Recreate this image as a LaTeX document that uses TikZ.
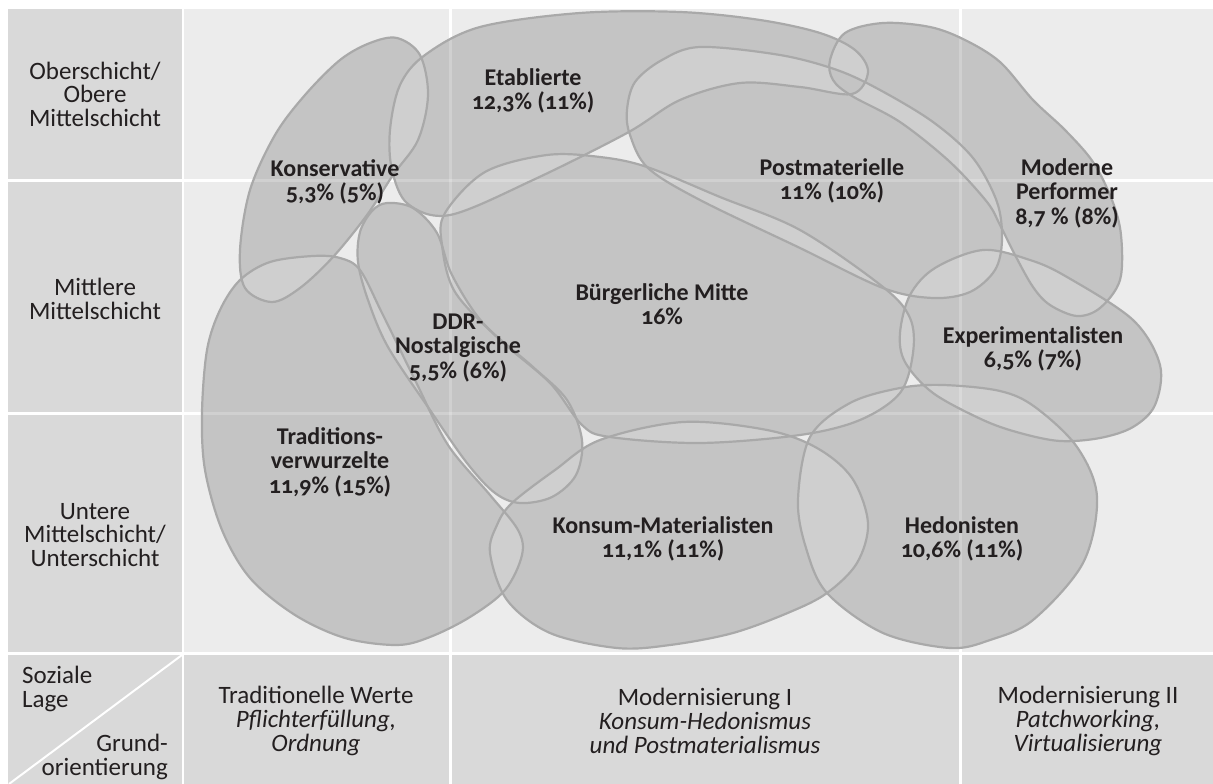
\documentclass[tikz,border=0pt]{standalone}
\usepackage{fontspec}
\setmainfont{Carlito}[Numbers=OldStyle]
\definecolor{cellgray}{HTML}{D9D9D9}
\definecolor{areagray}{HTML}{ECECEC}
\definecolor{blobfill}{HTML}{C4C4C4}
\definecolor{blobov}{HTML}{CFCFCF}
\definecolor{blobline}{HTML}{A9A9A9}
\definecolor{txt}{HTML}{231F20}
\tikzset{
  smoothpath/.style={smooth cycle, tension=0.55},
  pKon/.style={insert path={plot[smoothpath] coordinates {(272,302) (245,288) (240,250) (250,190) (275,135) (305,95) (340,60) (370,43) (397,38) (420,55) (428,95) (418,140) (393,175) (367,215) (333,257) (300,288)}}},
  pEta/.style={insert path={plot[smoothpath] coordinates {(392,170) (390,130) (400,85) (425,55) (480,27) (580,13) (680,12) (760,20) (820,33) (855,50) (868,72) (852,94) (800,87) (740,83) (680,100) (627,133) (533,180) (450,215) (408,204)}}},
  pPM/.style={insert path={plot[smoothpath] coordinates {(627,110) (635,82) (662,60) (700,47) (780,55) (837,70) (880,90) (933,122) (973,158) (997,202) (1002,240) (995,270) (970,292) (933,298) (883,288) (800,248) (700,200) (648,168) (630,135)}}},
  pMP/.style={insert path={plot[smoothpath] coordinates {(830,60) (845,33) (883,23) (930,27) (965,40) (1000,62) (1033,100) (1065,130) (1093,162) (1112,200) (1121,235) (1120,280) (1100,308) (1077,316) (1050,305) (1033,287) (1015,255) (1000,225) (987,202) (950,162) (900,122) (852,96) (833,80)}}},
  pEX/.style={insert path={plot[smoothpath] coordinates {(900,333) (910,295) (935,268) (983,250) (1030,260) (1067,277) (1133,320) (1160,365) (1155,405) (1133,427) (1100,438) (1060,441) (1020,433) (983,420) (933,393) (905,362)}}},
  pBM/.style={insert path={plot[smoothpath] coordinates {(445,213) (485,172) (547,155) (600,157) (647,167) (720,197) (800,230) (883,287) (910,318) (913,353) (900,393) (860,420) (800,435) (700,443) (610,437) (582,425) (550,383) (500,340) (455,292) (442,245)}}},
  pDDR/.style={insert path={plot[smoothpath] coordinates {(387,203) (413,208) (437,233) (452,275) (483,323) (533,367) (567,400) (582,440) (576,475) (552,497) (520,503) (495,493) (467,463) (430,410) (388,347) (368,300) (358,262) (360,232) (372,211)}}},
  pTV/.style={insert path={plot[smoothpath] coordinates {(202,413) (207,350) (220,310) (240,280) (270,262) (313,256) (340,258) (360,270) (382,313) (415,380) (448,445) (490,495) (518,530) (522,555) (505,590) (470,617) (430,637) (397,645) (345,638) (295,615) (250,578) (222,530) (205,470)}}},
  pKM/.style={insert path={plot[smoothpath] coordinates {(490,553) (497,525) (512,503) (555,470) (600,440) (683,422) (767,430) (817,448) (852,478) (868,523) (857,563) (827,593) (790,612) (733,633) (670,645) (617,648) (550,633) (507,600)}}},
  pHE/.style={insert path={plot[smoothpath] coordinates {(798,500) (810,437) (850,403) (900,388) (943,385) (1000,391) (1035,407) (1077,447) (1097,497) (1083,563) (1033,620) (990,640) (950,648) (883,633) (827,593) (806,548)}}},
  cell/.style={fill=cellgray, draw=none},
  gridline/.style={white, line width=3},
  outline/.style={draw=blobline, line width=2.2},
  rowlab/.style={font=\fontsize{25}{23.5}\selectfont, text=txt, inner sep=0},
  collab/.style={font=\fontsize{25}{24}\selectfont, text=txt, align=center, inner sep=0},
  blab/.style={font=\fontsize{24}{24.5}\selectfont\bfseries, text=txt, align=center, inner sep=0}
}
\begin{document}
\begin{tikzpicture}[x=1pt, y=-1pt]
\useasboundingbox (0,0) rectangle (1213,784);
\fill[white] (0,0) rectangle (1213,784);
% left column cells
\fill[cell] (8,9) rectangle (182,179);
\fill[cell] (8,182) rectangle (182,412);
\fill[cell] (8,415) rectangle (182,652);
\fill[cell] (8,655) rectangle (182,784);
% main area
\fill[areagray] (184,9) rectangle (1213,652);
% bottom cells
\fill[cell] (184,655) rectangle (449,784);
\fill[cell] (452,655) rectangle (959,784);
\fill[cell] (962,655) rectangle (1213,784);
% grid lines in main area
\draw[gridline] (450.5,9) -- (450.5,652);
\draw[gridline] (960.5,9) -- (960.5,652);
\draw[gridline] (184,180.5) -- (1213,180.5);
\draw[gridline] (184,413.5) -- (1213,413.5);
% diagonal
\draw[white, line width=2] (9,784) -- (182,655);
% blobs: union light, odd coverage darker
\foreach \p in {pKon,pEta,pPM,pMP,pEX,pBM,pDDR,pTV,pKM,pHE}{
  \fill[blobov, \p];
}
\fill[blobfill, even odd rule, pKon, pEta, pPM, pMP, pEX, pBM, pDDR, pTV, pKM, pHE];
% grid lines showing through
\draw[gridline, opacity=0.22] (450.5,9) -- (450.5,652);
\draw[gridline, opacity=0.22] (960.5,9) -- (960.5,652);
\draw[gridline, opacity=0.22] (184,180.5) -- (1213,180.5);
\draw[gridline, opacity=0.22] (184,413.5) -- (1213,413.5);
% outlines
\foreach \p in {pKon,pEta,pPM,pMP,pEX,pBM,pDDR,pTV,pKM,pHE}{
  \draw[outline, \p];
}
% row labels
\node[rowlab, align=center] (r1) at (95,94) {Oberschicht/\\Obere\\Mittelschicht};
\node[rowlab, align=center] (r2) at (95,299) {Mittlere\\Mittelschicht};
\node[rowlab, align=center] (r3) at (95,535) {Untere\\Mittelschicht/\\Unterschicht};
\node[rowlab, align=left, anchor=west] (sl) at (22,689) {Soziale\\Lage};
\node[rowlab, align=right, anchor=east] (go) at (168,757) {Grund-\\orientierung};
% column labels
\node[collab] (c1) at (316,721) {Traditionelle Werte\\\textit{Pflichterfüllung,}\\\textit{Ordnung}};
\node[collab] (c2) at (705,721) {Modernisierung I\\\textit{Konsum-Hedonismus}\\\textit{und Postmaterialismus}};
\node[collab] (c3) at (1088,721) {Modernisierung II\\\textit{Patchworking,}\\\textit{Virtualisierung}};
% milieu labels
\node[blab] (kon) at (335,182) {Konservative\\5,3\% (5\%)};
\node[blab] (eta) at (533,91) {Etablierte\\12,3\% (11\%)};
\node[blab] (pm) at (832,181) {Postmaterielle\\11\% (10\%)};
\node[blab] (mp) at (1067,193) {Moderne\\Performer\\8,7 \% (8\%)};
\node[blab] (bm) at (662,304) {Bürgerliche Mitte\\16\%};
\node[blab] (ddr) at (458,348) {DDR-\\Nostalgische\\5,5\% (6\%)};
\node[blab] (tv) at (330,462) {Traditions-\\verwurzelte\\11,9\% (15\%)};
\node[blab] (ex) at (1033,349) {Experimentalisten\\6,5\% (7\%)};
\node[blab] (km) at (663,539) {Konsum-Materialisten\\11,1\% (11\%)};
\node[blab] (he) at (962,539) {Hedonisten\\10,6\% (11\%)};
\end{tikzpicture}
\end{document}
